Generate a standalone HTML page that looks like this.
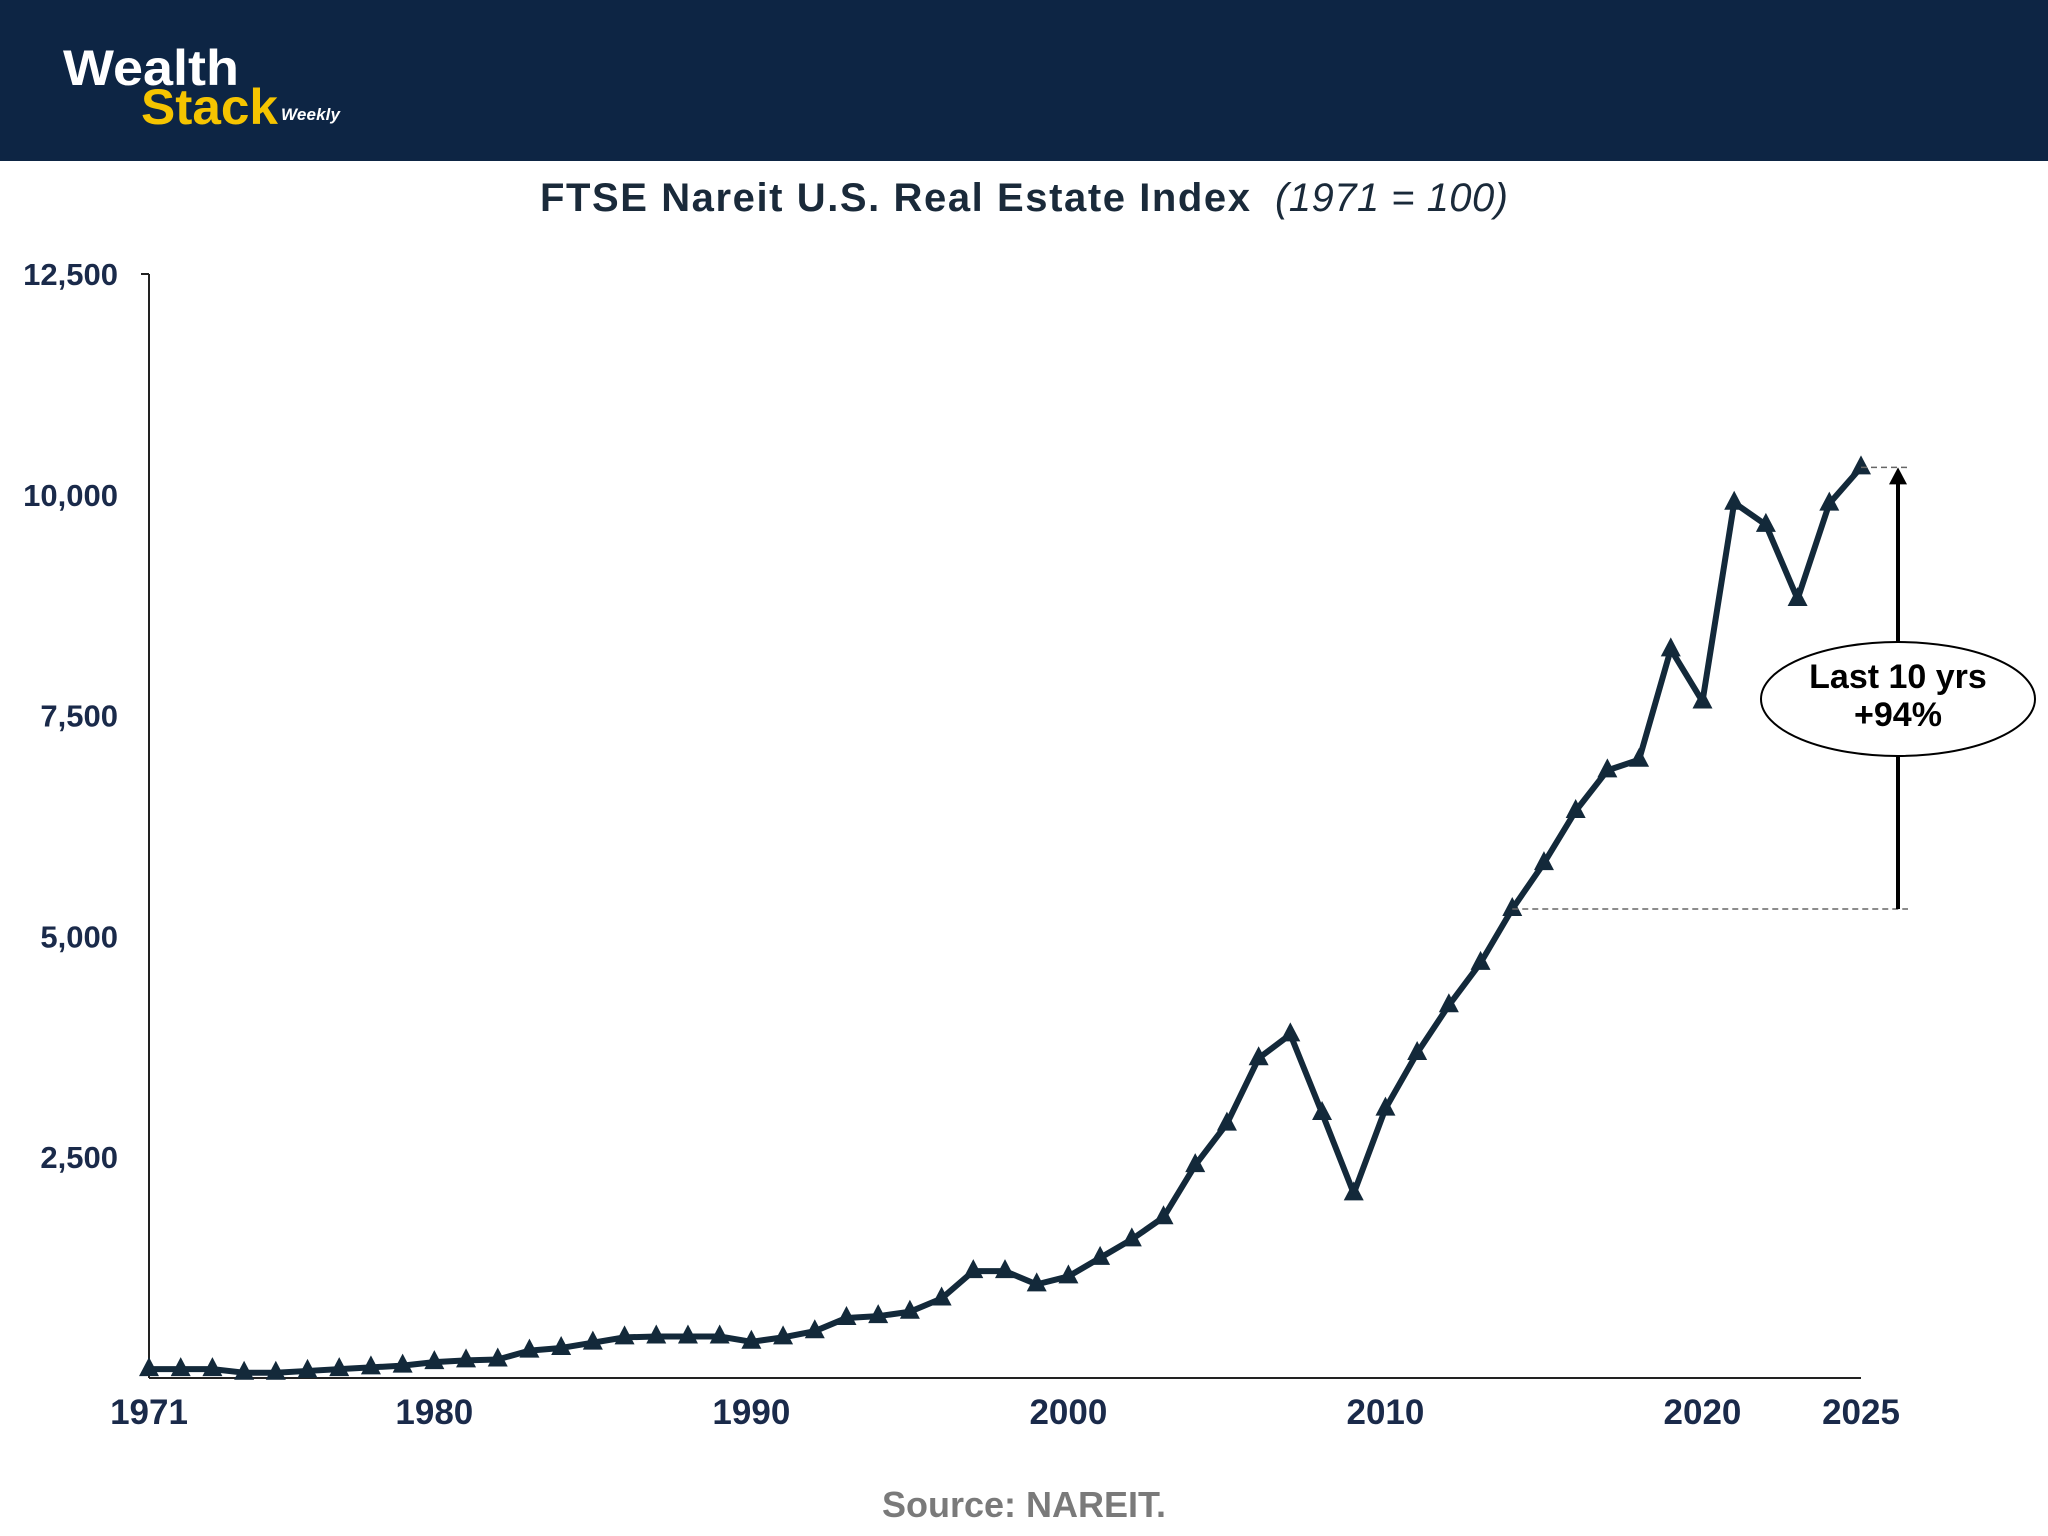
<!DOCTYPE html>
<html><head><meta charset="utf-8"><style>
html,body{margin:0;padding:0;background:#fff;}
svg{display:block;font-family:"Liberation Sans",sans-serif;}
</style></head><body>
<svg id="chart" width="2048" height="1536" viewBox="0 0 2048 1536">
<rect x="0" y="0" width="2048" height="161" fill="#0d2544"/>
<g>
<text x="63" y="85" font-size="50" font-weight="bold" fill="#fff" textLength="176" lengthAdjust="spacingAndGlyphs">Wealth</text>
<text x="141" y="124" font-size="50" font-weight="bold" fill="#f5c400" textLength="137" lengthAdjust="spacingAndGlyphs">Stack</text>
<text x="281" y="120" font-size="17" font-weight="bold" font-style="italic" fill="#fff" textLength="59">Weekly</text>
</g>
<text x="540" y="211" font-size="40" font-weight="bold" fill="#1a2a3a" textLength="710">FTSE Nareit U.S. Real Estate Index</text>
<text x="1275" y="211" font-size="40" font-style="italic" fill="#1a2a3a" textLength="233">(1971 = 100)</text>
<g id="axes"></g>
<g id="marks"></g>
<g id="annot"></g>
<text x="1024" y="1517" font-size="36" font-weight="bold" fill="#7a7a7a" text-anchor="middle">Source: NAREIT.</text>
</svg>
<script>
const years = [1971,1972,1973,1974,1975,1976,1977,1978,1979,1980,1981,1982,1983,1984,1985,1986,1987,1988,1989,1990,1991,1992,1993,1994,1995,1996,1997,1998,1999,2000,2001,2002,2003,2004,2005,2006,2007,2008,2009,2010,2011,2012,2013,2014,2015,2016,2017,2018,2019,2020,2021,2022,2023,2024,2025];
const values = [100,100,100,60,60,80,100,120,140,180,200,210,310,340,400,460,470,470,470,410,460,530,680,700,750,900,1210,1210,1060,1150,1360,1570,1820,2410,2880,3620,3890,3000,2090,3050,3680,4220,4700,5310,5830,6420,6880,7000,8250,7660,9910,9660,8820,9900,10310];
const yTicks = [2500,5000,7500,10000,12500];
const yTickLabels = ["2,500","5,000","7,500","10,000","12,500"];
const xTicks = [1971,1980,1990,2000,2010,2020,2025];
const annotFromYear = 2014;
const annotToYear = 2025;
const annotLabel = ["Last 10 yrs","+94%"];

const NS="http://www.w3.org/2000/svg";
const X0=149,X1=1861,Y0=1378,Ytop=274;
const xs=y=>X0+(y-1971)/(2025-1971)*(X1-X0);
const ys=v=>Y0-v/12500*(Y0-Ytop);
function mk(tag,attrs,parent){const e=document.createElementNS(NS,tag);for(const k in attrs)e.setAttribute(k,attrs[k]);parent.appendChild(e);return e;}
const axes=document.getElementById('axes'),marks=document.getElementById('marks'),annot=document.getElementById('annot');

let yl=mk('line',{x1:X0,y1:Ytop,x2:X0,y2:Y0,stroke:'#222','stroke-width':2},axes);


let tk=mk('line',{x1:X0-8,y1:Ytop,x2:X0,y2:Ytop,stroke:'#222','stroke-width':2},axes);


let xl=mk('line',{x1:X0,y1:Y0,x2:X1,y2:Y0,stroke:'#222','stroke-width':2},axes);


yTicks.forEach((v,i)=>{
  const t=mk('text',{x:118,y:ys(v)+11,'font-size':31,'font-weight':'bold',fill:'#1a2a4a','text-anchor':'end'},axes);
  t.textContent=yTickLabels[i];
  
  
});
xTicks.forEach(y=>{
  const t=mk('text',{x:xs(y),y:1424,'font-size':35,'font-weight':'bold',fill:'#1a2a4a','text-anchor':'middle'},axes);
  t.textContent=y;
  
  
});
const pts=years.map((y,i)=>xs(y)+','+ys(values[i])).join(' ');
const pl=mk('polyline',{points:pts,fill:'none',stroke:'#13293a','stroke-width':6,'stroke-linejoin':'round'},marks);


years.forEach((y,i)=>{
  const cx=xs(y),cy=ys(values[i]);
  const p=mk('polygon',{points:`${cx},${cy-12} ${cx-10},${cy+7} ${cx+10},${cy+7}`,fill:'#13293a'},marks);
  
  
});
const iF=years.indexOf(annotFromYear),iT=years.indexOf(annotToYear);
const ax=1898,yF=ys(values[iF]),yT=ys(values[iT]);
let d1=mk('line',{x1:xs(annotFromYear),y1:yF,x2:ax+10,y2:yF,stroke:'#666','stroke-width':1.5,'stroke-dasharray':'6,4'},annot);


let d2=mk('line',{x1:xs(annotToYear),y1:yT,x2:ax+10,y2:yT,stroke:'#666','stroke-width':1.5,'stroke-dasharray':'6,4'},annot);


let ar=mk('line',{x1:ax,y1:yF,x2:ax,y2:yT+14,stroke:'#000','stroke-width':4},annot);


let ah=mk('polygon',{points:`${ax},${yT} ${ax-9},${yT+17} ${ax+9},${yT+17}`,fill:'#000'},annot);


let el=mk('ellipse',{cx:ax,cy:699,rx:137,ry:57,fill:'#fff',stroke:'#000','stroke-width':2},annot);


annotLabel.forEach((s,i)=>{
  const t=mk('text',{x:ax,y:688+i*38,'font-size':34,'font-weight':'bold',fill:'#000','text-anchor':'middle'},annot);
  t.textContent=s;
  
  
});
</script>
</body></html>
